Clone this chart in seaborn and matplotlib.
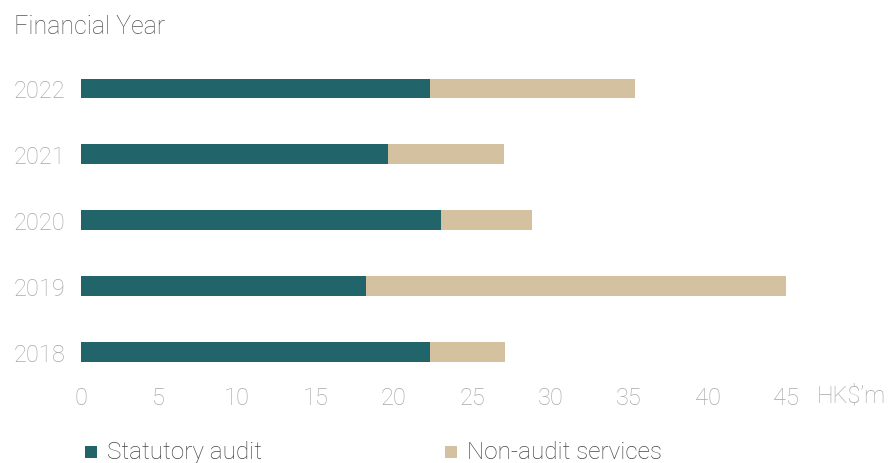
import matplotlib
matplotlib.use("Agg")
import matplotlib.pyplot as plt
from matplotlib.patches import Rectangle
import seaborn as sns
import pandas as pd

# Auditor remuneration by financial year (HK$ million)
years = ["2022", "2021", "2020", "2019", "2018"]
statutory_audit = [22.3, 19.6, 23.0, 18.2, 22.3]
non_audit_services = [13.1, 7.4, 5.8, 26.8, 4.8]
x_ticks = [0, 5, 10, 15, 20, 25, 30, 35, 40, 45]

TEAL = "#21646A"
TAN = "#D4C19F"
TICK_GREY = "#A8A8A8"
TEXT_GREY = "#555555"

sns.set_theme(style="white")
plt.rcParams["font.family"] = ["Roboto", "DejaVu Sans"]

df = pd.DataFrame({
    "year": years,
    "statutory": statutory_audit,
    "non_audit": non_audit_services,
})
df["total"] = df["statutory"] + df["non_audit"]

fig = plt.figure(figsize=(8.96, 4.64), dpi=100)
ax = fig.add_axes([80.5 / 896, 1 - 386 / 464, (786 - 80.5) / 896, (386 - 56.5) / 464])

# stacked bars: full total in tan, statutory part drawn over it in teal
sns.barplot(data=df, x="total", y="year", order=years, color=TAN,
            width=0.30, saturation=1, ax=ax, orient="h", linewidth=0)
sns.barplot(data=df, x="statutory", y="year", order=years, color=TEAL,
            width=0.30, saturation=1, ax=ax, orient="h", linewidth=0)

ax.set_xlim(0, 45)
ax.set_ylim(len(years) - 0.5, -0.5)
ax.set_xticks(x_ticks)
ax.set_xticklabels([str(t) for t in x_ticks])
ax.set_xlabel("")
ax.set_ylabel("")
for s in ax.spines.values():
    s.set_visible(False)
ax.tick_params(axis="both", length=0, labelsize=17, labelcolor=TICK_GREY)
ax.tick_params(axis="y", pad=11)
ax.tick_params(axis="x", pad=1)
for lbl in ax.get_xticklabels() + ax.get_yticklabels():
    lbl.set_fontweight("light")

fig.text(817 / 896, 1 - 396 / 464, "HK$\u2019m", ha="left", va="center",
         fontsize=17, color=TICK_GREY, fontweight="light")
fig.text(14 / 896, 1 - 27 / 464, "Financial Year", ha="left", va="center",
         fontsize=18, color=TEXT_GREY, fontweight="light")

# legend
for x0, col, label in [(85, TEAL, "Statutory audit"), (445, TAN, "Non-audit services")]:
    fig.patches.append(Rectangle((x0 / 896, 1 - 459 / 464), 12 / 896, 12 / 464,
                                 transform=fig.transFigure, facecolor=col,
                                 edgecolor="none"))
    fig.text((x0 + 22) / 896, 1 - 453 / 464, label, ha="left", va="center",
             fontsize=17.5, color="#444444", fontweight="light")

fig.savefig("out.png", dpi=100)
